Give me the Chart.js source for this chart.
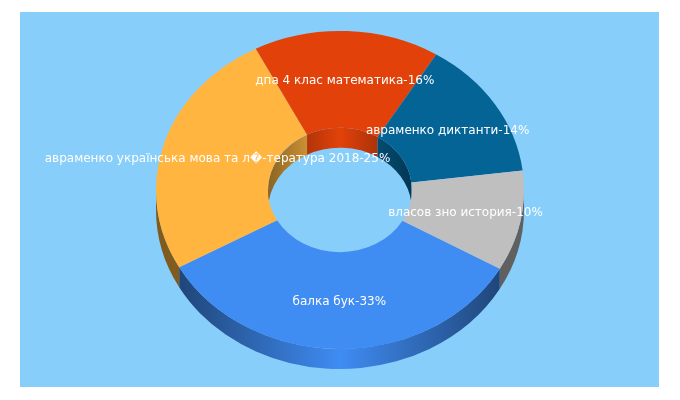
<!DOCTYPE html>
<html>
<head>
<meta charset="utf-8">
<style>html,body{margin:0;padding:0;background:#fff}canvas{display:block}</style>
<script src="https://cdn.jsdelivr.net/npm/chart.js@4"></script>
</head>
<body>
<canvas id="c" width="680" height="400"></canvas>
<script>
const categories = ['балка бук', 'авраменко українська мова та л\uFFFD-тература 2018', 'дпа 4 клас математика', 'авраменко диктанти', 'власов зно история'];
const shares = [33, 25, 16, 14, 10];
const colors = ['#3F8CF3', '#FFB540', '#E2420A', '#056496', '#BFBFBF'];

const PANEL = {x: 20, y: 12, w: 639, h: 375, color: '#87CEFA'};
const SQUASH = 159 / 184, FACE_CY = 190, DEPTH = 20;

function shade(hex, f) {
  const n = parseInt(hex.slice(1), 16);
  return `rgb(${Math.round((n >> 16) * f)},${Math.round(((n >> 8) & 255) * f)},${Math.round((n & 255) * f)})`;
}
function wallGradient(ctx, cx, r, hex, edge, flat) {
  const g = ctx.createLinearGradient(cx - r, 0, cx + r, 0);
  g.addColorStop(0, shade(hex, edge));
  g.addColorStop(flat, shade(hex, edge));
  g.addColorStop(0.5, shade(hex, 1));
  g.addColorStop(1 - flat, shade(hex, edge));
  g.addColorStop(1, shade(hex, edge));
  return g;
}
function wall(ctx, cx, r, a0, a1, fill) {
  const ry = r * SQUASH;
  ctx.beginPath();
  ctx.ellipse(cx, FACE_CY, r, ry, 0, a0, a1, false);
  ctx.ellipse(cx, FACE_CY + DEPTH, r, ry, 0, a1, a0, true);
  ctx.closePath();
  ctx.fillStyle = fill;
  ctx.fill();
}
const TAU = Math.PI * 2;
function overlap(a0, a1, lo, hi) {
  const out = [];
  for (const k of [-TAU, 0, TAU]) {
    const s = Math.max(a0 + k, lo), e = Math.min(a1 + k, hi);
    if (e > s) out.push([s, e]);
  }
  return out;
}

const pseudo3d = {
  id: 'pseudo3d',
  beforeDraw(chart) {
    const c = chart.ctx;
    c.save();
    c.fillStyle = PANEL.color;
    c.fillRect(PANEL.x, PANEL.y, PANEL.w, PANEL.h);
    c.restore();
  },
  beforeDatasetsDraw(chart) {
    const c = chart.ctx;
    const arcs = chart.getDatasetMeta(0).data;
    arcs.forEach((arc, i) => {
      // inner wall, far side of the hole
      for (const [s, e] of overlap(arc.startAngle, arc.endAngle, Math.PI, TAU)) {
        wall(c, arc.x, arc.innerRadius, s, e, wallGradient(c, arc.x, arc.innerRadius, colors[i], 0.55, 0));
      }
      // outer wall, near side
      for (const [s, e] of overlap(arc.startAngle, arc.endAngle, 0, Math.PI)) {
        wall(c, arc.x, arc.outerRadius, s, e, wallGradient(c, arc.x, arc.outerRadius, colors[i], 0.5, 0.065));
      }
    });
    const a = arcs[0];
    c.save();
    c.translate(a.x, FACE_CY);
    c.scale(1, SQUASH);
    c.translate(-a.x, -a.y);
  },
  afterDatasetsDraw(chart) {
    const c = chart.ctx;
    c.restore();
    const arcs = chart.getDatasetMeta(0).data;
    c.save();
    c.font = '12px "DejaVu Sans"';
    c.fillStyle = '#fff';
    c.textAlign = 'center';
    c.textBaseline = 'middle';
    arcs.forEach((arc, i) => {
      const p = arc.getCenterPoint();
      c.fillText(`${categories[i]}-${shares[i]}%`, p.x, FACE_CY + 1 + (p.y - arc.y) * SQUASH);
    });
    c.restore();
  }
};

new Chart(document.getElementById('c'), {
  type: 'doughnut',
  data: {
    labels: categories,
    datasets: [{data: shares, backgroundColor: colors, borderWidth: 0, clip: false}]
  },
  options: {
    responsive: false,
    animation: false,
    events: [],
    rotation: 119.7,
    cutout: '39.1%',
    layout: {padding: {top: 16, bottom: 16}},
    plugins: {legend: {display: false}, tooltip: {enabled: false}}
  },
  plugins: [pseudo3d]
});
</script>
</body>
</html>
